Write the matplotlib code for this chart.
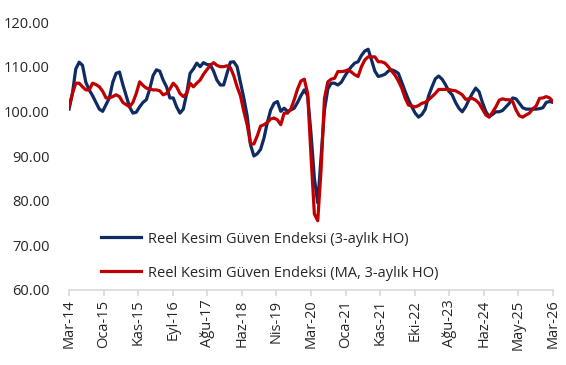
import numpy as np
import matplotlib.pyplot as plt

plt.rcParams['font.family'] = ['Open Sans', 'DejaVu Sans']

# aylık veri: Mar-14 ... Mar-26
reel_3ay = [
    100.5, 104.0, 109.5, 111.0, 110.3, 106.5, 104.8, 103.5, 102.0, 100.5,
    100.0, 101.5, 103.0, 106.5, 108.5, 108.8, 106.0, 103.5, 101.0, 99.6,
    99.8, 101.0, 102.0, 102.6, 105.0, 108.0, 109.3, 109.0, 107.0, 105.5,
    103.0, 103.0, 101.0, 99.6, 100.5, 104.0, 108.5, 109.5, 110.8, 110.0,
    110.9, 110.5, 110.4, 109.0, 107.0, 105.9, 105.9, 108.5, 111.0, 111.1,
    110.0, 106.5, 103.0, 99.0, 92.5, 90.0, 90.5, 91.5, 94.0, 97.5,
    100.3, 101.8, 102.2, 100.0, 100.7, 100.0, 100.3, 100.7, 102.0, 103.5,
    104.8, 103.5, 95.0, 85.0, 79.5, 90.0, 100.3, 105.0, 106.3, 106.3,
    105.9, 106.5, 107.8, 109.0, 110.0, 110.8, 111.1, 112.5, 113.5, 113.9,
    111.5, 109.0, 107.8, 108.0, 108.3, 109.0, 109.3, 109.0, 108.5, 106.5,
    104.5, 102.6, 101.0, 99.6, 98.7, 99.3, 100.5, 103.5, 105.5, 107.3,
    107.9, 107.2, 106.0, 104.5, 103.7, 102.0, 100.7, 99.9, 101.0, 102.6,
    104.0, 105.2, 104.4, 102.0, 100.0, 98.8, 99.3, 99.9, 99.9, 100.2,
    101.0, 101.8, 103.0, 102.8, 101.8, 100.8, 100.5, 100.5, 100.5, 100.5,
    100.6, 100.8, 102.0, 102.2, 102.0,
]

reel_ma_3ay = [
    101.0, 104.0, 106.3, 106.3, 105.5, 104.8, 104.8, 106.3, 106.0, 105.5,
    104.5, 103.0, 103.0, 103.3, 103.7, 103.3, 102.0, 101.5, 101.0, 102.0,
    104.0, 106.6, 105.8, 105.2, 105.0, 104.8, 104.8, 104.6, 103.7, 104.0,
    105.0, 106.3, 105.5, 104.0, 103.3, 104.0, 106.3, 105.5, 106.3, 107.0,
    108.3, 109.3, 110.3, 110.9, 110.3, 110.0, 110.0, 110.2, 109.8, 108.0,
    105.5, 103.5, 100.0, 97.0, 92.7, 92.7, 94.5, 96.7, 97.0, 97.5,
    98.3, 98.5, 98.1, 97.0, 99.6, 99.6, 100.5, 102.6, 105.0, 106.8,
    107.2, 104.0, 90.0, 77.0, 75.5, 87.0, 102.9, 106.6, 107.2, 107.4,
    108.9, 108.9, 109.0, 109.3, 108.8, 108.2, 107.8, 110.0, 111.5, 112.2,
    112.2, 112.2, 111.1, 111.1, 110.8, 110.0, 109.0, 108.1, 106.8, 105.2,
    103.0, 101.4, 101.2, 101.0, 101.3, 101.8, 102.0, 102.6, 103.3, 104.0,
    104.9, 104.9, 104.9, 104.9, 104.7, 104.6, 104.2, 103.7, 102.7, 102.8,
    102.9, 102.5, 101.8, 100.5, 99.2, 98.7, 99.8, 101.0, 102.5, 102.8,
    102.6, 102.6, 102.2, 100.3, 99.0, 98.7, 99.2, 99.6, 100.6, 101.2,
    102.9, 103.0, 103.3, 103.0, 102.2,
]

x_labels = ['Mar-14', 'Oca-15', 'Kas-15', 'Eyl-16', 'Ağu-17', 'Haz-18', 'Nis-19',
            'Mar-20', 'Oca-21', 'Kas-21', 'Eki-22', 'Ağu-23', 'Haz-24', 'May-25', 'Mar-26']

n = len(reel_3ay)
x = np.arange(n)

fig = plt.figure(figsize=(5.66, 3.65), dpi=100)
ax = fig.add_axes([0.122, 0.2055, 0.855, 0.7342])

ax.plot(x, reel_3ay, color='#0e2b63', lw=2.3, label='Reel Kesim Güven Endeksi (3-aylık HO)')
ax.plot(x, reel_ma_3ay, color='#c00000', lw=2.3, label='Reel Kesim Güven Endeksi (MA, 3-aylık HO)')

ax.set_xlim(0, n - 1)
ax.set_ylim(60, 120)
ax.set_yticks(np.arange(60, 121, 10))
ax.set_yticklabels([f'{v:.2f}' for v in range(60, 121, 10)], fontsize=10.5, color='#262626')

ax.set_xticks(np.linspace(0, n - 1, len(x_labels)))
ax.set_xticklabels(x_labels, rotation=90, fontsize=10.5, color='#262626')

for s in ['top', 'right', 'left']:
    ax.spines[s].set_visible(False)
ax.spines['bottom'].set_color('#d9d9d9')
ax.spines['bottom'].set_linewidth(1.2)
ax.tick_params(axis='y', length=0, pad=14)
ax.tick_params(axis='x', length=4, color='#d9d9d9', width=1.2, pad=3)

ax.legend(loc='lower left', bbox_to_anchor=(0.05, 0.008), frameon=False,
          fontsize=10.5, handlelength=2.8, labelspacing=1.3, handletextpad=0.45,
          borderpad=0, labelcolor='#262626')

fig.savefig('out.png', dpi=100)
